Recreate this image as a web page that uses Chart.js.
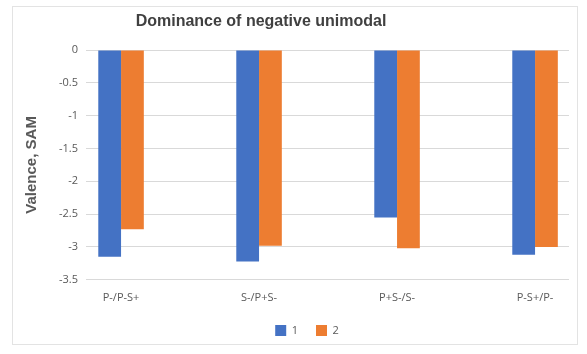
<!DOCTYPE html>
<html lang="en">
<head>
  <meta charset="UTF-8" />
  <title>Dominance of negative unimodal</title>
  <script src="https://cdn.jsdelivr.net/npm/chart.js"></script>
  <style>
    body { margin: 0; background: #fff; }
    #frame { position: absolute; left: 12px; top: 6px; width: 564px; height: 337px; border: 1px solid #e3e3e3; }
    #title { position: absolute; left: 98px; top: 5px; width: 300px; text-align: center; font: bold 16px "Liberation Sans", Arial, sans-serif; color: #404040; }
  </style>
</head>
<body>
  <div id="frame">
    <div id="title">Dominance of negative unimodal</div>
    <canvas id="chart" width="564" height="337"></canvas>
  </div>

  <script>
    const categories = ['P-/P-S+', 'S-/P+S-', 'P+S-/S-', 'P-S+/P-'];
    const series1 = [-3.15, -3.22, -2.55, -3.12];
    const series2 = [-2.73, -2.98, -3.02, -3.00];
    const seriesNames = ['1', '2'];
    const yTicks = [0, -0.5, -1, -1.5, -2, -2.5, -3, -3.5];

    const grey = '#595959';
    const tickFont = { family: 'Open Sans', size: 11 };

    new Chart(document.getElementById('chart'), {
      type: 'bar',
      data: {
        datasets: [
          { label: seriesNames[0], data: series1.map((v, i) => ({ x: i, y: v })), backgroundColor: '#4472C4' },
          { label: seriesNames[1], data: series2.map((v, i) => ({ x: i, y: v })), backgroundColor: '#ED7D31' }
        ]
      },
      options: {
        responsive: false,
        animation: false,
        categoryPercentage: 0.33,
        barPercentage: 1,
        layout: { padding: { top: 43, left: 32, right: 8, bottom: -2 } },
        plugins: {
          legend: {
            position: 'bottom',
            labels: { boxWidth: 11, boxHeight: 11, padding: 18, color: grey, font: tickFont }
          },
          tooltip: { enabled: false }
        },
        scales: {
          x: {
            type: 'linear',
            offset: false,
            min: -0.254,
            max: 3.246,
            grid: { display: false, drawTicks: false },
            border: { display: false },
            afterBuildTicks: s => { s.ticks = categories.map((c, i) => ({ value: i })); },
            afterFit: s => { s.height -= 8; },
            ticks: { color: grey, padding: 11, font: tickFont, callback: v => categories[v] }
          },
          y: {
            min: -3.5,
            max: 0,
            grid: { color: '#d9d9d9', drawTicks: false },
            border: { display: false },
            afterBuildTicks: s => { s.ticks = yTicks.map(v => ({ value: v })); },
            afterFit: s => { s.width = 41; },
            ticks: { color: grey, padding: 8, font: tickFont, callback: v => String(v) },
            title: {
              display: true,
              text: 'Valence, SAM',
              color: grey,
              padding: { top: -22, bottom: 0 },
              font: { family: 'Liberation Sans', size: 15, weight: 'bold' }
            }
          }
        }
      }
    });
  </script>
</body>
</html>
